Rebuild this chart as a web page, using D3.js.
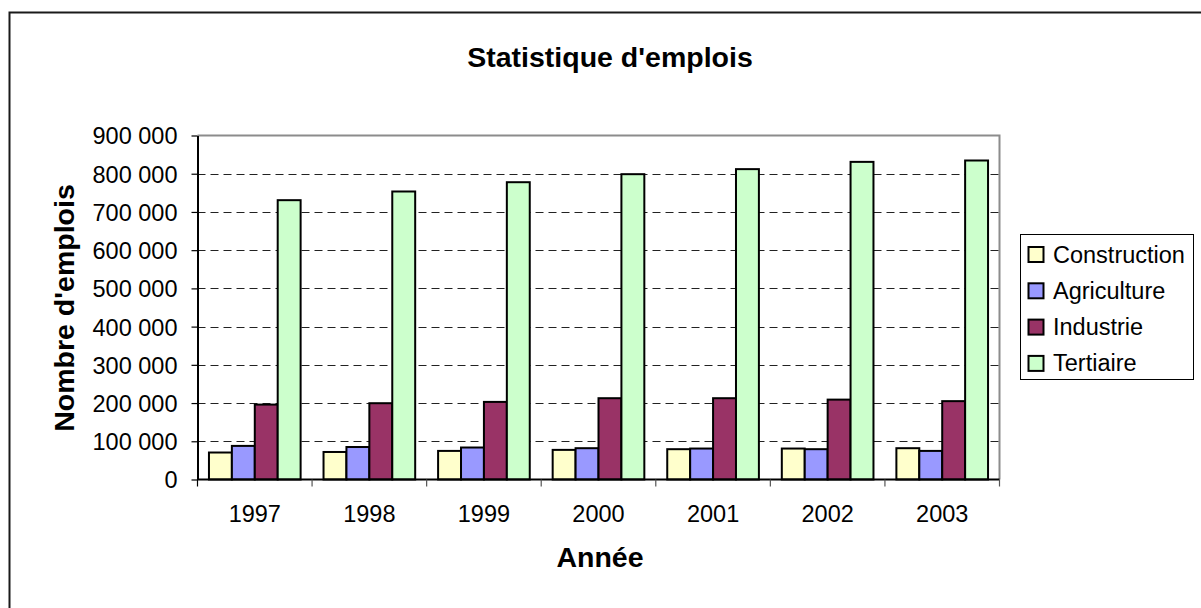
<!DOCTYPE html>
<html>
<head>
<meta charset="utf-8">
<script src="https://cdn.jsdelivr.net/npm/d3@7/dist/d3.min.js"></script>
<style>
  html, body { margin: 0; padding: 0; background: #fff; }
  svg { display: block; font-family: "Liberation Sans", Arial, Helvetica, sans-serif; }
</style>
</head>
<body>
<svg id="chart" width="1201" height="608"></svg>
<script>
// Employment by sector, 1997–2003
const years = ["1997", "1998", "1999", "2000", "2001", "2002", "2003"];
const sectors = ["Construction", "Agriculture", "Industrie", "Tertiaire"];
const construction = [70600, 72000, 74800, 77500, 79300, 81000, 81900];
const agriculture  = [87900, 85000, 83700, 81900, 81000, 79300, 74800];
const industrie    = [196000, 199600, 203000, 212700, 212700, 209000, 205000];
const tertiaire    = [730800, 753500, 777800, 798800, 812000, 831000, 834600];
const yTicks = [0, 100000, 200000, 300000, 400000, 500000, 600000, 700000, 800000, 900000];
const colors = ["#FFFFCC", "#9999FF", "#993366", "#CCFFCC"];

const seriesValues = [construction, agriculture, industrie, tertiaire];

const svg = d3.select("#chart");

const normalSize = 23.5;
const boldSize = 28.5;

// Outer chart frame
svg.append("rect")
  .attr("x", 9.5).attr("y", 12.5)
  .attr("width", 1400).attr("height", 800)
  .attr("fill", "#fff")
  .attr("stroke", "#1a1a1a").attr("stroke-width", 2);

const plot = { left: 197.5, right: 999.5, top: 135.5, bottom: 479.5 };

const x = d3.scaleBand()
  .domain(years)
  .range([plot.left, plot.right])
  .paddingInner(0).paddingOuter(0);

const y = d3.scaleLinear()
  .domain([0, 900000])
  .range([plot.bottom, plot.top]);

const barW = x.bandwidth() / 5;

// Plot area border (top and right, grey)
svg.append("path")
  .attr("d", `M${plot.left},${plot.top}H${plot.right}V${plot.bottom}`)
  .attr("fill", "none")
  .attr("stroke", "#8c8c8c").attr("stroke-width", 2);

// Dashed horizontal gridlines
svg.append("g")
  .selectAll("line")
  .data(yTicks.filter(d => d > 0 && d < 900000))
  .join("line")
  .attr("x1", plot.left).attr("x2", plot.right)
  .attr("y1", d => Math.round(y(d)) + 0.5).attr("y2", d => Math.round(y(d)) + 0.5)
  .attr("stroke", "#222")
  .attr("stroke-width", 1)
  .attr("stroke-dasharray", "8,5");

// Bars
const groups = svg.append("g")
  .selectAll("g")
  .data(years)
  .join("g")
  .attr("transform", d => `translate(${x(d)},0)`);

groups.selectAll("rect")
  .data((yr, i) => seriesValues.map((vals, s) => ({ s, v: vals[i] })))
  .join("rect")
  .attr("x", d => barW * (0.5 + d.s))
  .attr("y", d => y(d.v))
  .attr("width", barW)
  .attr("height", d => y(0) - y(d.v))
  .attr("fill", d => colors[d.s])
  .attr("stroke", "#000")
  .attr("stroke-width", 2);

// Y axis
const yAxis = d3.axisLeft(y)
  .tickValues(yTicks)
  .tickSizeInner(6).tickSizeOuter(0)
  .tickPadding(14)
  .tickFormat(d => d3.format(",")(d).replace(/,/g, " "));

const yg = svg.append("g")
  .attr("transform", `translate(${plot.left},0)`)
  .call(yAxis);
yg.select(".domain").attr("stroke", "#000").attr("stroke-width", 2);
yg.selectAll(".tick line").attr("stroke", "#000").attr("stroke-width", 1.2);
yg.selectAll(".tick text")
  .attr("font-size", normalSize)
  .attr("font-family", "Liberation Sans, Arial, sans-serif")
  .attr("fill", "#000")
  .attr("dy", "0.36em");

// X axis with ticks on category boundaries
const xg = svg.append("g")
  .attr("transform", `translate(0,${plot.bottom})`);
xg.append("line")
  .attr("x1", plot.left).attr("x2", plot.right)
  .attr("stroke", "#000").attr("stroke-width", 2);
xg.selectAll("line.tk")
  .data(years.map(d => x(d)).concat([plot.right]))
  .join("line")
  .attr("class", "tk")
  .attr("x1", d => d).attr("x2", d => d)
  .attr("y1", 0).attr("y2", 7)
  .attr("stroke", (d, i) => i === 0 ? "#000" : "#555")
  .attr("stroke-width", 1.2);
xg.selectAll("text")
  .data(years)
  .join("text")
  .attr("x", d => x(d) + x.bandwidth() / 2)
  .attr("y", 42.5)
  .attr("text-anchor", "middle")
  .attr("font-size", normalSize)
  .attr("fill", "#000")
  .text(d => d);

// Titles
svg.append("text")
  .attr("x", 610).attr("y", 67)
  .attr("text-anchor", "middle")
  .attr("font-size", boldSize)
  .attr("font-weight", "bold")
  .text("Statistique d'emplois");

svg.append("text")
  .attr("x", 600).attr("y", 567)
  .attr("text-anchor", "middle")
  .attr("font-size", boldSize)
  .attr("font-weight", "bold")
  .text("Année");

svg.append("text")
  .attr("transform", "translate(74,308) rotate(-90)")
  .attr("text-anchor", "middle")
  .attr("font-size", boldSize)
  .attr("font-weight", "bold")
  .text("Nombre d'emplois");

// Legend
const legend = svg.append("g");
legend.append("rect")
  .attr("x", 1020.5).attr("y", 234.5)
  .attr("width", 173).attr("height", 145)
  .attr("fill", "#fff")
  .attr("stroke", "#000").attr("stroke-width", 1);

const items = legend.selectAll("g.item")
  .data(sectors)
  .join("g")
  .attr("class", "item")
  .attr("transform", (d, i) => `translate(1028,${246.5 + i * 36.3})`);
items.append("rect")
  .attr("x", 0.5).attr("y", 0.5)
  .attr("width", 15).attr("height", 15)
  .attr("fill", (d, i) => colors[i])
  .attr("stroke", "#000").attr("stroke-width", 2);
items.append("text")
  .attr("x", 25).attr("y", 16)
  .attr("font-size", normalSize)
  .attr("fill", "#000")
  .text(d => d);
</script>
</body>
</html>
